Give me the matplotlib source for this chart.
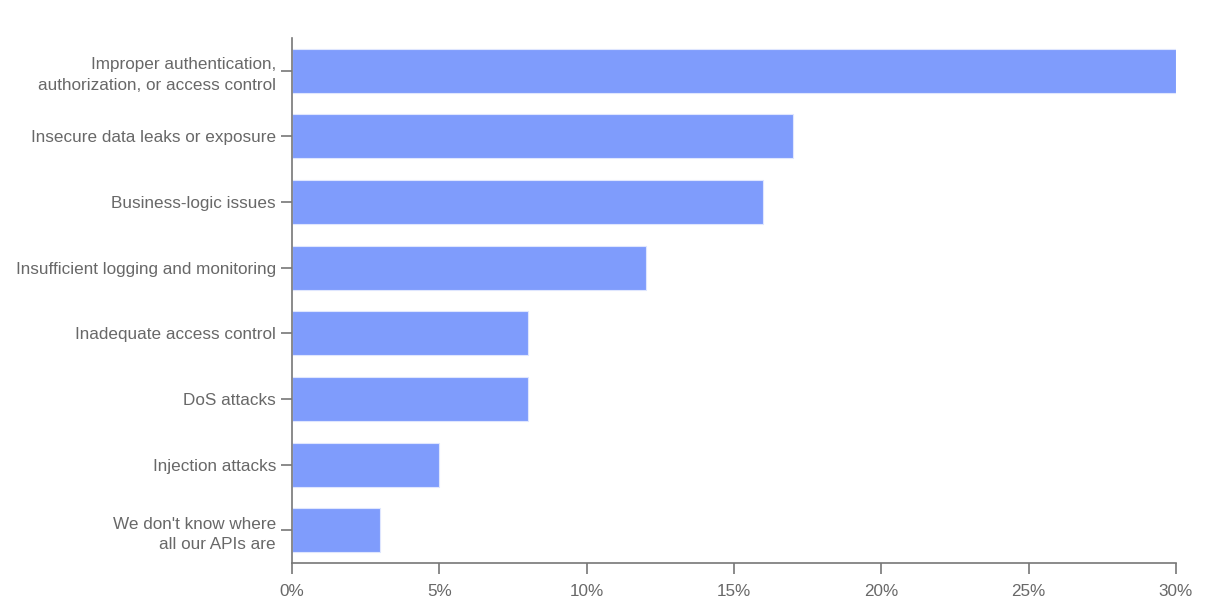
import matplotlib
matplotlib.use('Agg')
import matplotlib.pyplot as plt
from matplotlib.ticker import FuncFormatter

# ========== DATA ==========
categories = [
    'Improper authentication,\nauthorization, or access control',
    'Insecure data leaks or exposure',
    'Business-logic issues',
    'Insufficient logging and monitoring',
    'Inadequate access control',
    'DoS attacks',
    'Injection attacks',
    "We don't know where\nall our APIs are",
]
values = [30, 17, 16, 12, 8, 8, 5, 3]
x_ticks = [0, 5, 10, 15, 20, 25, 30]
# ==========================

BAR_COLOR = '#7f9cfc'
TEXT_COLOR = '#686868'
AXIS_COLOR = '#777777'

plt.rcParams['font.family'] = ['Liberation Sans', 'DejaVu Sans']

fig = plt.figure(figsize=(12.06, 6.08), dpi=100)
ax = fig.add_axes([292 / 1206, 1 - 563 / 608, (1176 - 292) / 1206, (563 - 38) / 608])

ypos = list(range(len(categories)))
ax.barh(ypos, values, height=0.67, color=BAR_COLOR, edgecolor='#dfe6fe', linewidth=0.8)

ax.set_xlim(0, 30)
ax.set_ylim(len(categories) - 0.5, -0.5)
ax.set_yticks(ypos)
ax.set_yticklabels(categories, ha='right', multialignment='right', linespacing=1.45)
ax.set_xticks(x_ticks)
ax.xaxis.set_major_formatter(FuncFormatter(lambda v, p: f'{v:g}%'))

for s in ['top', 'right']:
    ax.spines[s].set_visible(False)
for s in ['left', 'bottom']:
    ax.spines[s].set_color(AXIS_COLOR)
    ax.spines[s].set_linewidth(1.2)

ax.tick_params(axis='both', colors=AXIS_COLOR, length=8, width=1.2,
               labelcolor=TEXT_COLOR, labelsize=12.3)
ax.tick_params(axis='y', pad=3.5)
ax.tick_params(axis='x', pad=7)

fig.savefig('out.png', dpi=100)
